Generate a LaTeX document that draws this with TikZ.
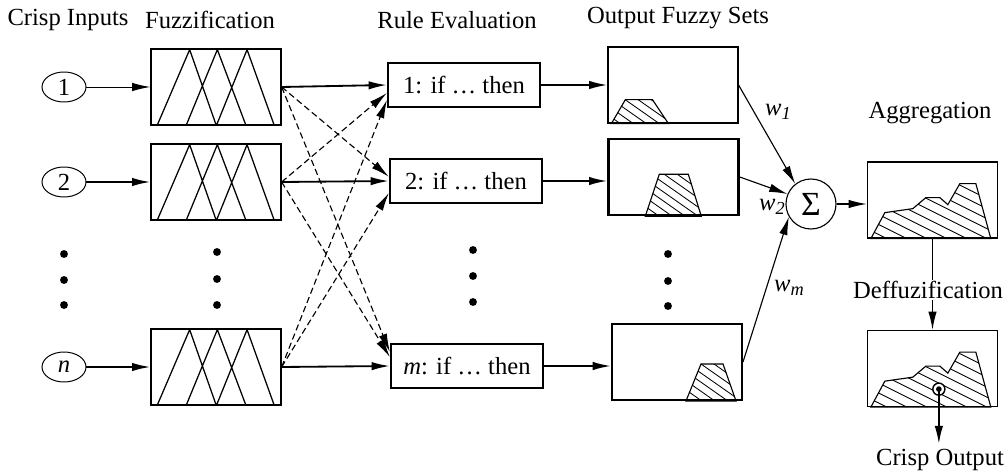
\documentclass[tikz,border=0pt]{standalone}
\usepackage{fontspec}
\setmainfont{Liberation Serif}
\usetikzlibrary{arrows.meta,positioning,calc,shapes.geometric}

% hatched fuzzy set drawn inside a box: node, outline, slope, spacing
\newcommand{\hatchset}[4]{%
  \begin{scope}[shift={(#1.south west)}]
    \begin{scope}
      \clip #2;
      \foreach \k in {-24,...,14}
        \draw[line width=0.6pt] (\k*#4,-100) -- ++(300,300*#3);
    \end{scope}
    \draw[line width=0.8pt] #2;
  \end{scope}}
% weight label
\newcommand{\wlab}[1]{\textit{w}\raisebox{-0.4ex}{\fontsize{13}{15}\selectfont\textit{#1}}}

\begin{document}
\begin{tikzpicture}[>={Latex[length=13pt,width=6pt]},x=0.025cm,y=-0.025cm,
  font=\fontsize{17.5}{20}\selectfont,
  inp/.style={draw,ellipse,line width=0.7pt,minimum width=1.1cm,minimum height=0.75cm,inner sep=0pt},
  fuzzbox/.style={draw,line width=0.9pt,minimum width=3.25cm,minimum height=1.9cm},
  rulebox/.style={draw,line width=1.6pt,minimum width=3.8cm,minimum height=1.1cm},
  setbox/.style={draw,minimum width=3.25cm,minimum height=1.9cm,inner sep=0pt},
  dsh/.style={->,line width=0.8pt,dash pattern=on 4.5pt off 2.5pt},
  vdot/.style={fill=black}]
\useasboundingbox (0,0) rectangle (1008,473);
% ===================== headers =====================
\node (hin) at (68,20) {Crisp Inputs};
\node (hfz) at (210,20) {Fuzzification};
\node (hrule) at (457,20) {Rule Evaluation};
\node (hout) at (678,18) {Output Fuzzy Sets};
\node (hagg) at (930,113) {Aggregation};
% ===================== inputs and fuzzification =====================
\foreach \i/\yy/\lab/\lw in {1/87/1/0.7pt,2/182/2/1.3pt,n/367/\textit{n}/1.3pt}{
  \node[inp] (in\i) at (64,\yy) {\lab};
  \node[fuzzbox] (fz\i) at (216,\yy) {};
  \draw[->,line width=\lw] (in\i) -- (fz\i);
  % membership triangles
  \begin{scope}[shift={(fz\i.south west)},line width=0.9pt]
    \draw (6.7,0) -- (39.3,-76) -- (66,0) (35.7,0) -- (67,-76) -- (95.7,0)
      (66,0) -- (96.7,-76) -- (124,0);
  \end{scope}}
% dots
\foreach \xx/\ya/\yb/\yc in {64/254/280/305,217/252/279/305,473/250/276/302,668/254/281/306}{
  \fill[vdot] (\xx,\ya) circle (2.8pt) (\xx,\yb) circle (2.8pt) (\xx,\yc) circle (2.8pt);}
% ===================== rules =====================
\node[rulebox] (r1) at (464,85) {1: if \dots\ then};
\node[rulebox] (r2) at (466,181) {2: if \dots\ then};
\node[rulebox] (rm) at (467,366) {\textit{m}: if \dots\ then};
\draw[->,line width=1.3pt] (fz1.east) -- (r1.west);
\draw[->,line width=1.3pt] (fz2.east) -- (r2.west);
\draw[->,line width=1.3pt] (fzn.east) -- (rm.west);
\draw[dsh] (fz1.east) -- ([yshift=3pt]r2.west);
\draw[dsh] (fz1.east) -- ([yshift=10pt]rm.west);
\draw[dsh] (fz2.east) -- ([yshift=-5.7pt]r1.west);
\draw[dsh] (fz2.east) -- ([yshift=6.4pt]rm.west);
\draw[dsh] (fzn.east) -- ([yshift=-10.7pt]r1.west);
\draw[dsh] (fzn.east) -- ([yshift=-8.5pt]r2.west);
% ===================== output fuzzy sets =====================
\node[setbox,line width=0.8pt] (o1) at (673,85) {};
\node[setbox,line width=1.7pt] (o2) at (673.5,177) {};
\node[setbox,line width=1.4pt] (om) at (677,362) {};
\hatchset{o1}{(4,0) -- (18,-24) -- (45,-24) -- (61,0) -- cycle}{0.7}{13}
\hatchset{o2}{(38,0) -- (52,-42) -- (81,-42) -- (94,0) -- cycle}{0.7}{13}
\hatchset{om}{(75,0) -- (90,-37) -- (112,-37) -- (125,0) -- cycle}{0.7}{13}
\draw[->,line width=1.3pt] (r1.east) -- (r1 -| o1.west);
\draw[->,line width=1.3pt] (r2.east) -- (r2 -| o2.west);
\draw[->,line width=1.3pt] (rm.east) -- (rm -| om.west);
% ===================== aggregation =====================
\node[draw,circle,line width=0.8pt,minimum size=1.25cm,inner sep=0pt,font=\fontsize{24}{26}\selectfont] (sg) at (811,204) {Σ};
\draw[->,line width=0.8pt] (o1.east) -- (sg.128);
\draw[->,line width=0.8pt] (o2.east) -- (sg.157);
\draw[->,line width=0.8pt] (om.east) -- (sg.210);
\node (w1) at (778,112) {\wlab{1}};
\node (w2) at (772,207) {\wlab{2}};
\node (wm) at (789,288) {\wlab{m}};
\node[setbox,line width=0.9pt] (agg) at (932.5,200) {};
\node[setbox,line width=0.9pt] (dfz) at (932.5,368.5) {};
\hatchset{agg}{(4,0) -- (18,-26) -- (46,-30) -- (59,-41) -- (73,-41) -- (81,-34) -- (93,-55) -- (109,-55) -- (124,0) -- cycle}{0.5}{20}
\hatchset{dfz}{(4,0) -- (18,-26) -- (46,-30) -- (59,-41) -- (73,-41) -- (81,-34) -- (93,-55) -- (109,-55) -- (124,0) -- cycle}{0.5}{20}
\draw[->,line width=0.9pt] (sg.east) -- (sg -| agg.west);
\draw[->,line width=0.9pt] (agg.south) -- (dfz.north);
\node[fill=white,inner sep=1pt] (hdfz) at (928,290) {Deffuzification};
% ===================== crisp output =====================
\node (hco) at (940,460) {Crisp Output};
\coordinate (cp) at ($(dfz.south west)+(72,-18)$);
\draw[line width=1pt,fill=white] (cp) circle (4.3pt);
\fill (cp) circle (2pt);
\draw[->,line width=1.5pt] (cp) -- (cp |- hco.north);
\end{tikzpicture}
\end{document}
